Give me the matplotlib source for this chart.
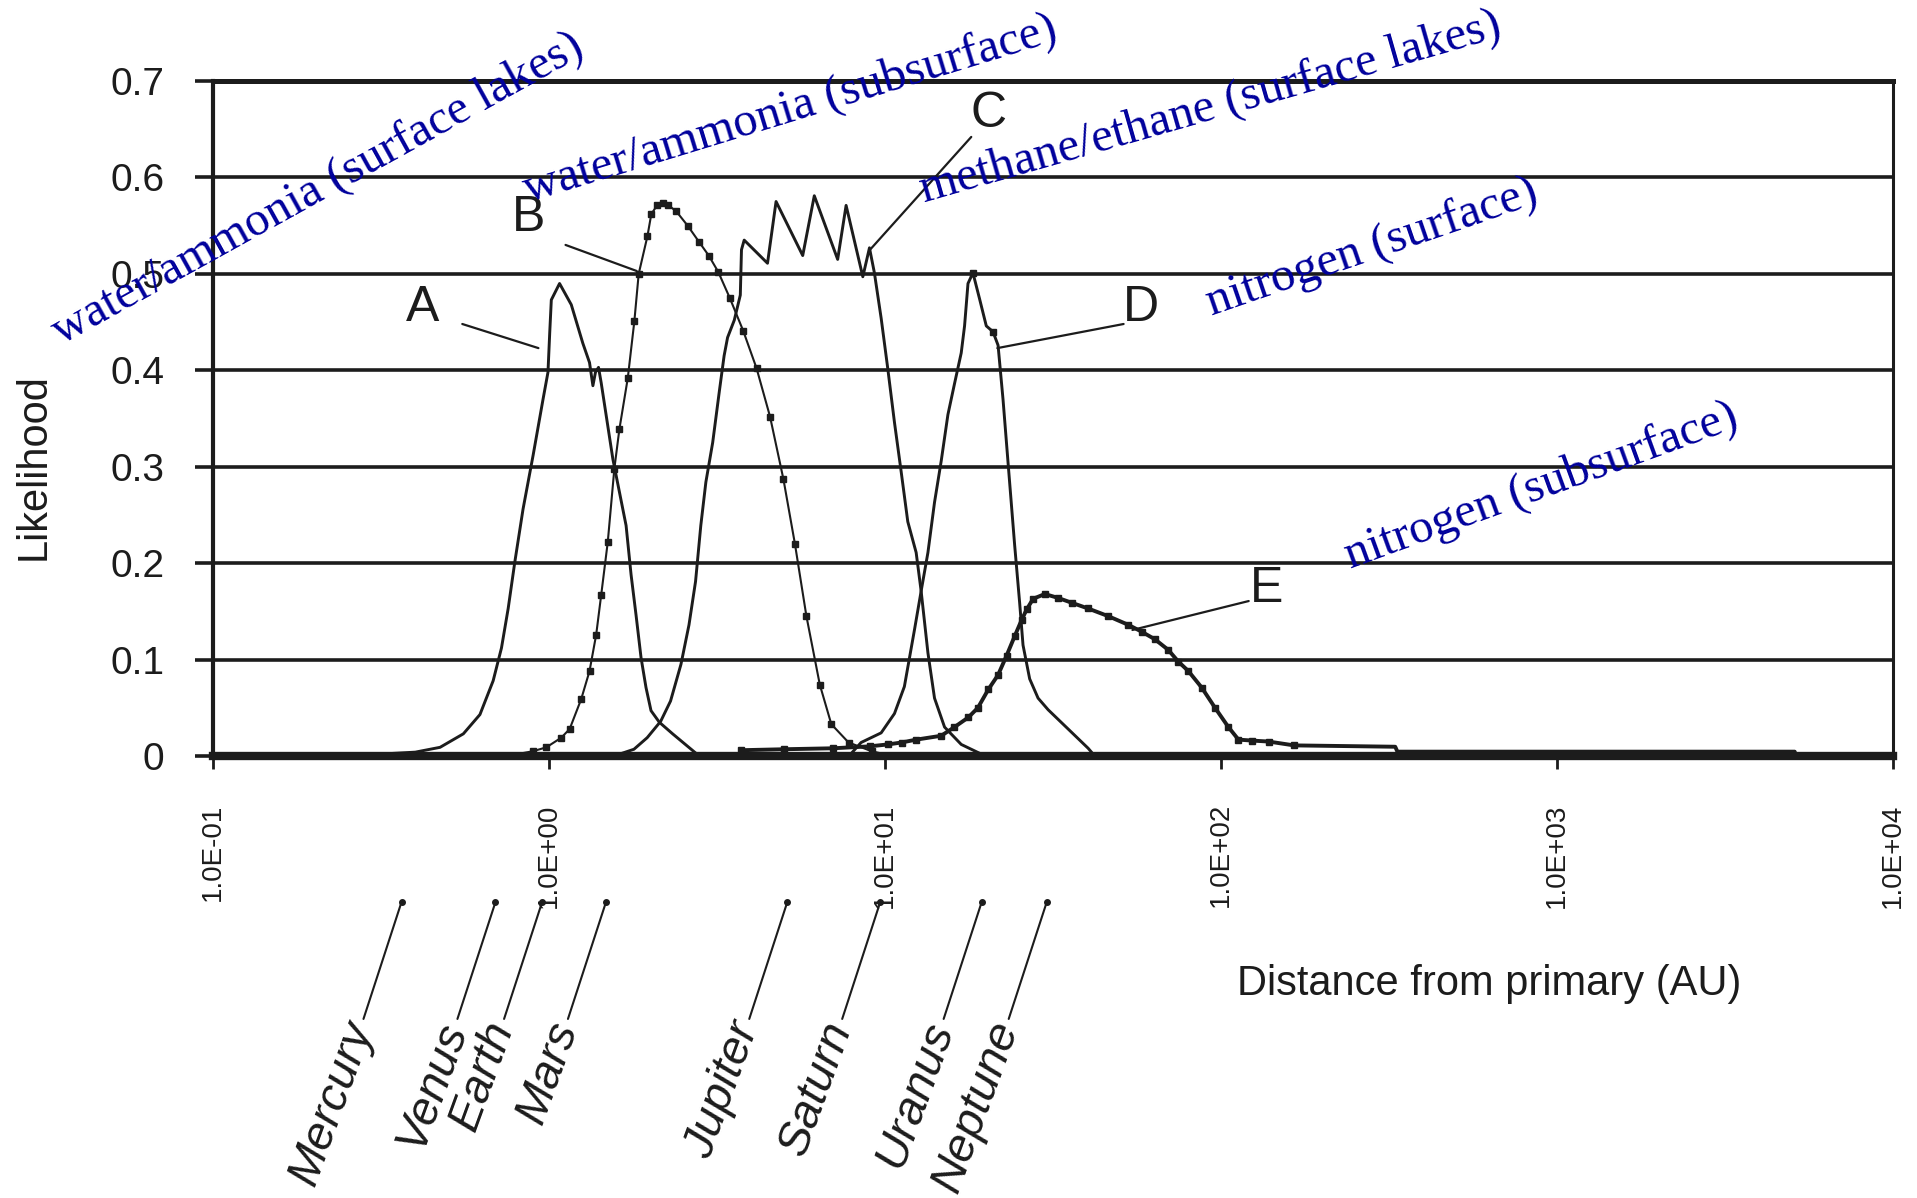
import matplotlib
matplotlib.use('Agg')
import matplotlib.pyplot as plt
from matplotlib.ticker import FixedLocator, NullLocator

# curve A - water/ammonia (surface lakes)
a_au = [0.25, 0.40, 0.474, 0.556, 0.623, 0.682, 0.722, 0.756, 0.791, 0.837, 0.897,
        0.960, 0.993, 1.005, 1.016, 1.075, 1.165, 1.261, 1.320, 1.351, 1.375, 1.404,
        1.430, 1.549, 1.696, 1.755, 1.816, 1.879, 1.944, 2.012, 2.130, 2.333, 2.80]
a_like = [0.0, 0.004, 0.009, 0.023, 0.043, 0.078, 0.112, 0.153, 0.201, 0.256, 0.312,
          0.370, 0.398, 0.439, 0.473, 0.490, 0.468, 0.428, 0.408, 0.384, 0.398, 0.403,
          0.387, 0.308, 0.239, 0.188, 0.146, 0.102, 0.071, 0.047, 0.035, 0.023, 0.0]

# curve B - water/ammonia (subsurface)
b_au = [0.75, 0.897, 0.982, 1.088, 1.152, 1.247, 1.320, 1.382, 1.430, 1.496, 1.565,
        1.620, 1.716, 1.795, 1.849, 1.963, 2.016, 2.097, 2.181, 2.268, 2.390, 2.586,
        2.798, 2.988, 3.190, 3.452, 3.784, 4.148, 4.548, 4.986, 5.394, 5.836, 6.397,
        6.922, 7.791, 9.12, 10.5]
b_like = [0.0, 0.005, 0.009, 0.019, 0.028, 0.059, 0.088, 0.126, 0.167, 0.222, 0.298,
          0.339, 0.392, 0.451, 0.500, 0.539, 0.562, 0.571, 0.573, 0.571, 0.565, 0.550,
          0.533, 0.519, 0.502, 0.475, 0.441, 0.402, 0.352, 0.287, 0.220, 0.145, 0.074,
          0.033, 0.014, 0.005, 0.0]

# curve C - methane/ethane (surface lakes)
c_au = [1.3, 1.56, 1.79, 1.96, 2.15, 2.30, 2.47, 2.61, 2.73, 2.83, 2.93, 3.07, 3.21,
        3.32, 3.40, 3.56, 3.64, 3.71, 3.74, 3.81, 4.47, 4.74, 5.69, 6.16, 7.23, 7.66,
        8.59, 8.99, 9.30, 9.74, 10.19, 10.67, 11.17, 11.69, 12.38, 12.81, 13.42, 14.04,
        15.04, 16.86, 19.34]
c_like = [0.0, 0.0, 0.007, 0.019, 0.036, 0.057, 0.095, 0.136, 0.181, 0.239, 0.284,
          0.325, 0.377, 0.415, 0.434, 0.452, 0.466, 0.478, 0.525, 0.535, 0.511, 0.575,
          0.519, 0.581, 0.515, 0.571, 0.497, 0.527, 0.501, 0.454, 0.402, 0.346, 0.295,
          0.243, 0.211, 0.171, 0.107, 0.060, 0.030, 0.012, 0.002]

# curve D - nitrogen (surface)
d_au = [8.0, 8.49, 9.74, 10.67, 11.42, 12.24, 12.81, 13.42, 14.04, 14.70, 15.39, 16.10,
        16.86, 17.25, 17.66, 18.27, 19.12, 20.02, 20.96, 21.70, 22.45, 23.23, 24.31,
        25.16, 25.75, 26.95, 28.55, 30.58, 40.24, 42.1]
d_like = [0.004, 0.014, 0.024, 0.044, 0.072, 0.131, 0.171, 0.211, 0.263, 0.306, 0.354,
          0.386, 0.418, 0.446, 0.490, 0.501, 0.474, 0.446, 0.440, 0.426, 0.370, 0.305,
          0.219, 0.159, 0.115, 0.080, 0.060, 0.048, 0.008, 0.0]

# curve E - nitrogen (subsurface)
e_au = [3.73, 5.0, 7.0, 9.0, 10.2, 11.2, 12.4, 14.7, 16.1, 17.7, 18.9, 20.3, 21.7, 23.0,
        24.3, 25.5, 26.4, 27.6, 29.9, 32.7, 35.9, 40.2, 46.2, 53.0, 58.0, 63.6, 69.7,
        74.6, 80.0, 87.6, 96.0, 105.2, 112.7, 123.5, 138.5, 165, 330, 335, 5100, 5130]
e_like = [0.006, 0.007, 0.008, 0.010, 0.012, 0.014, 0.017, 0.021, 0.030, 0.040, 0.050,
          0.069, 0.084, 0.104, 0.124, 0.141, 0.152, 0.163, 0.168, 0.164, 0.159, 0.153,
          0.145, 0.136, 0.129, 0.121, 0.110, 0.098, 0.088, 0.071, 0.050, 0.030, 0.017,
          0.016, 0.015, 0.011, 0.0096, 0.0045, 0.0045, 0.0]

planets = ['Mercury', 'Venus', 'Earth', 'Mars', 'Jupiter', 'Saturn', 'Uranus', 'Neptune']
planet_au = [0.364, 0.693, 0.954, 1.478, 5.12, 9.68, 19.4, 30.3]

xticks = [1e-1, 1e0, 1e1, 1e2, 1e3, 1e4]
xtick_labels = ['1.0E-01', '1.0E+00', '1.0E+01', '1.0E+02', '1.0E+03', '1.0E+04']
yticks = [0, 0.1, 0.2, 0.3, 0.4, 0.5, 0.6, 0.7]
ytick_labels = ['0', '0.1', '0.2', '0.3', '0.4', '0.5', '0.6', '0.7']

plt.rcParams['font.family'] = ['Liberation Sans', 'DejaVu Sans']

fig = plt.figure(figsize=(19.17, 11.98), dpi=100)
ax = fig.add_axes([213 / 1917, 1 - 756 / 1198, 1680 / 1917, 675 / 1198])

ink = '#1c1c1c'
ax.plot(a_au, a_like, color=ink, lw=2.1)
ax.plot(b_au, b_like, color=ink, lw=1.5, marker='s', ms=4)
ax.plot(c_au, c_like, color=ink, lw=2.1)
ax.plot(d_au, d_like, color=ink, lw=2.1, marker='s', ms=5, markevery=[15, 18])
ax.plot(e_au, e_like, color=ink, lw=2.8, marker='s', ms=4, markevery=slice(0, 36))

ax.set_xscale('log')
ax.set_xlim(0.1, 1e4)
ax.set_ylim(0, 0.7)
ax.xaxis.set_major_locator(FixedLocator(xticks))
ax.xaxis.set_minor_locator(NullLocator())
ax.set_xticklabels(xtick_labels, rotation=90, fontsize=20, color=ink)
ax.set_yticks(yticks)
ax.set_yticklabels(ytick_labels, fontsize=28, color=ink)
ax.tick_params(axis='y', length=13, width=2.6, pad=22, color=ink)
ax.tick_params(axis='x', length=9, width=2.0, pad=25, color=ink)
ax.yaxis.grid(True, color=ink, lw=2.6)
ax.set_axisbelow(True)
for side, w in [('left', 3.0), ('top', 3.6), ('right', 2.2), ('bottom', 6.0)]:
    ax.spines[side].set_linewidth(w)
    ax.spines[side].set_color(ink)

fig.text(0.0177, 0.6102, 'Likelihood', rotation=90, fontsize=30, color=ink,
         ha='center', va='center')
fig.text(0.7767, 0.1786, 'Distance from primary (AU)', fontsize=30, color=ink,
         ha='center', va='center')

# letter labels with leader lines: (letter, text pos, line start, line end)
letters = [
    ('A', (0.42, 0.4646), (0.552, 0.448), (0.930, 0.423)),
    ('B', (0.869, 0.558), (1.12, 0.530), (1.823, 0.503)),
    ('C', (20.4, 0.666), (18.06, 0.642), (8.97, 0.524)),
    ('D', (57.6, 0.4646), (51.3, 0.448), (21.6, 0.423)),
    ('E', (136.8, 0.173), (120.9, 0.1607), (54.5, 0.1307)),
]
for lab, tpos, lstart, lend in letters:
    ax.text(tpos[0], tpos[1], lab, fontsize=36, color=ink, ha='center', va='center')
    ax.annotate('', xy=lend, xytext=lstart,
                arrowprops=dict(arrowstyle='-', color=ink, lw=1.6,
                                shrinkA=0, shrinkB=0))

# slanted blue notes
notes = [
    ('water/ammonia (surface lakes)', 0.0352, 0.4262, 29),
    ('water/ammonia (subsurface)', 0.8686, 0.5745, 17),
    ('methane/ethane (surface lakes)', 13.08, 0.5745, 16),
    ('nitrogen (surface)', 93.8, 0.4573, 19),
    ('nitrogen (subsurface)', 243.6, 0.195, 20),
]
for txt, x, y, rot in notes:
    ax.text(x, y, txt, fontsize=35, color='#00009C', family='Liberation Serif',
            rotation=rot, rotation_mode='anchor', ha='left', va='baseline')

# planet markers below the axis
trans = ax.get_xaxis_transform()
y_dot = -0.2163
ax.plot(planet_au, [y_dot] * len(planet_au), transform=trans, ls='none',
        marker='o', ms=4, color=ink, clip_on=False)
for name, au in zip(planets, planet_au):
    ax.annotate('', xy=(au, y_dot), xycoords=trans, xytext=(-27.4, -84.2),
                textcoords='offset points',
                arrowprops=dict(arrowstyle='-', color=ink, lw=1.5,
                                shrinkA=0, shrinkB=0))
    ax.annotate(name, xy=(au, y_dot), xycoords=trans, xytext=(-29, -87),
                textcoords='offset points', fontsize=34, style='italic',
                color=ink, rotation=70, rotation_mode='anchor',
                ha='right', va='center')

fig.savefig('out.png', dpi=100)
